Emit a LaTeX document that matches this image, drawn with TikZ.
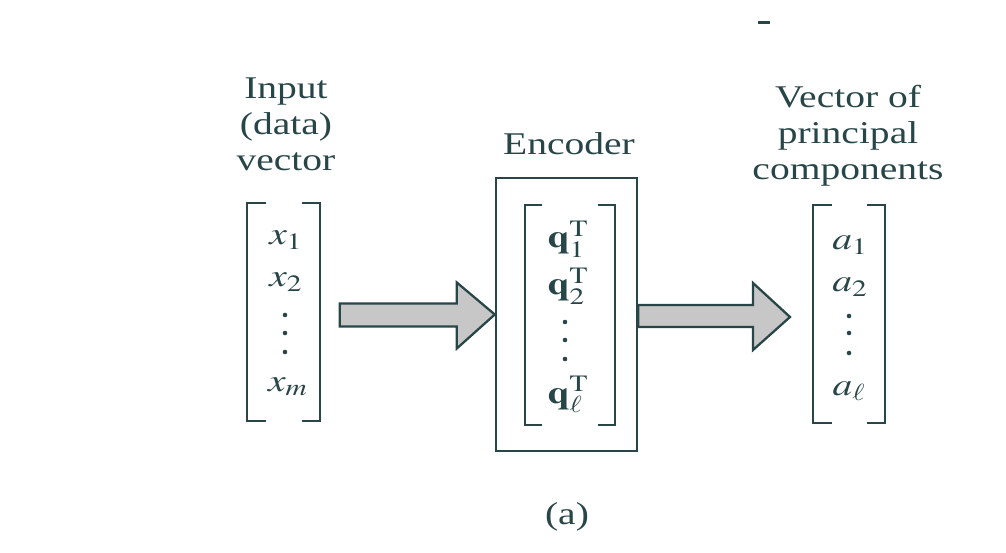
\documentclass[tikz,border=0pt]{standalone}
\usepackage{mathptmx}
\usepackage[no-math]{fontspec}
\setmainfont{Liberation Serif}
\definecolor{ink}{RGB}{40,70,72}
\newcommand{\wide}[1]{\scalebox{1.25}[1]{#1}}
\tikzset{
  lbl/.style={font=\fontsize{18}{20.5}\selectfont, text=ink, inner sep=0pt},
  brk/.style={draw=ink, line width=1.5pt},
  blockarrow/.style={draw=ink, line width=1.3pt, fill=black!22, line join=miter},
}
\begin{document}
\begin{tikzpicture}[x=0.02cm, y=-0.02cm]
    \useasboundingbox (0,0) rectangle (1006,553);

    % labels above the vectors
    \node[lbl] (inlbl) at (286,127) {\wide{\begin{tabular}{@{}c@{}}Input\\(data)\\vector\end{tabular}}};
    \node[lbl, anchor=base] (enclbl) at (569,155) {\wide{Encoder}};
    \node[lbl] (pclbl) at (848,136) {\wide{\begin{tabular}{@{}c@{}}Vector of\\principal\\components\end{tabular}}};

    % input vector
    \draw[brk] (266,203) -- (247,203) -- (247,421) -- (266,421);
    \draw[brk] (302,203) -- (320,203) -- (320,421) -- (302,421);
    \node[lbl, anchor=base] (x1) at (286,245) {\wide{$x_1$}};
    \node[lbl, anchor=base] (x2) at (286,287) {\wide{$x_2$}};
    \node[lbl, anchor=base] (xm) at (288,391) {\wide{$x_m$}};
    \foreach \y in {315,333,352} \fill[ink] (285,\y) circle (1.3pt);

    % encoder
    \node[draw=ink, line width=1.4pt, minimum width=2.82cm, minimum height=5.46cm] (encoder) at (566.5,314.5) {};
    \draw[brk] (542,205) -- (525,205) -- (525,425) -- (542,425);
    \draw[brk] (598,205) -- (615,205) -- (615,425) -- (598,425);
    \node[lbl, anchor=base] (q1) at (568,248) {\wide{$\mathbf{q}_1^{\mathrm{T}}$}};
    \node[lbl, anchor=base] (q2) at (568,295) {\wide{$\mathbf{q}_2^{\mathrm{T}}$}};
    \node[lbl, anchor=base] (ql) at (568,403) {\wide{$\mathbf{q}_\ell^{\mathrm{T}}$}};
    \foreach \y in {322,340,359} \fill[ink] (565,\y) circle (1.3pt);

    % principal components
    \draw[brk] (832,205) -- (813,205) -- (813,423) -- (832,423);
    \draw[brk] (867,205) -- (885,205) -- (885,423) -- (867,423);
    \node[lbl, anchor=base] (a1) at (850,250) {\wide{$a_1$}};
    \node[lbl, anchor=base] (a2) at (850,292) {\wide{$a_2$}};
    \node[lbl, anchor=base] (al) at (849,395) {\wide{$a_\ell$}};
    \foreach \y in {316,333,353} \fill[ink] (849,\y) circle (1.3pt);

    % block arrows
    \coordinate (pcin) at (790,317);
    \draw[blockarrow] (encoder.west) -- ++(-38,-32) -- ++(0,21) -- ++(-117,0) -- ++(0,23) -- ++(117,0) -- ++(0,22) -- cycle;
    \draw[blockarrow] (pcin) -- ++(-37,-34) -- ++(0,22) -- (encoder.east |- 0,305) -- (encoder.east |- 0,327) -- (753,327) -- ++(0,23) -- cycle;

    \node[lbl] (caption) at (567,517) {\wide{(a)}};
    \fill[ink] (758,21) rectangle (770,24);
\end{tikzpicture}
\end{document}
